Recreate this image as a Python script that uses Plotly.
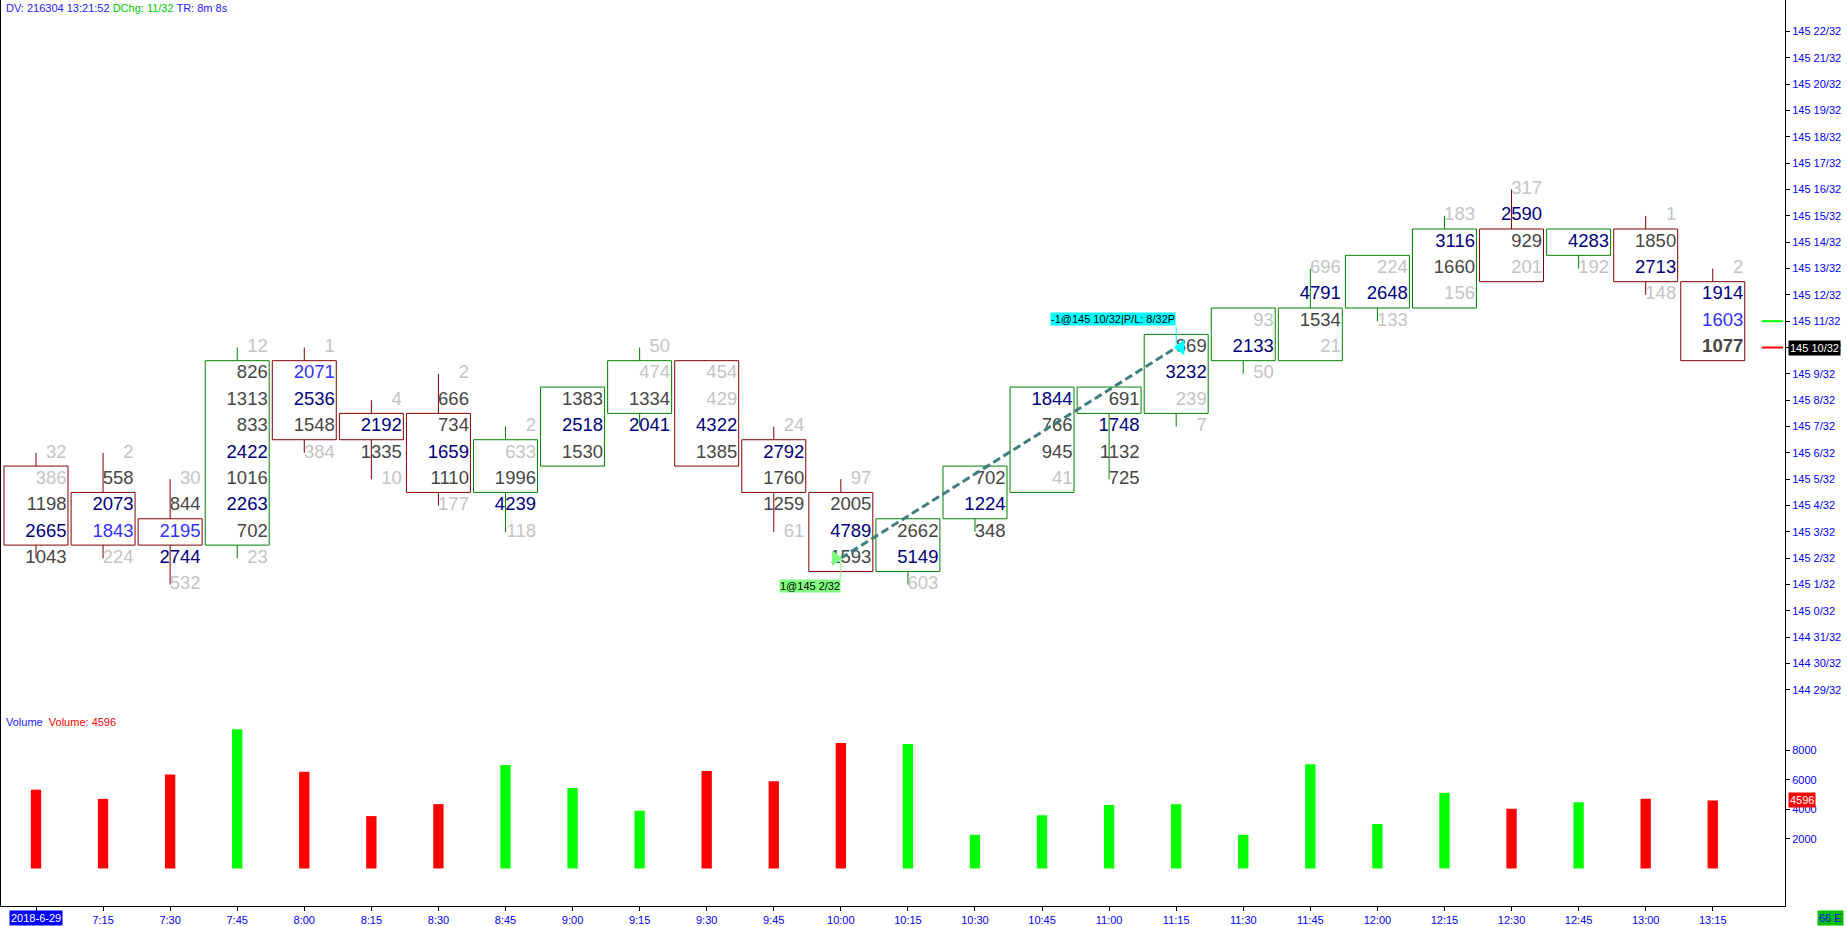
import plotly.graph_objects as go

# ---------------- data ----------------
time_labels = ["2018-6-29", "7:15", "7:30", "7:45", "8:00", "8:15", "8:30", "8:45", "9:00", "9:15",
               "9:30", "9:45", "10:00", "10:15", "10:30", "10:45", "11:00", "11:15", "11:30",
               "11:45", "12:00", "12:15", "12:30", "12:45", "13:00", "13:15"]
# prices in 32nds above 145 0/32
bar_high = [6, 6, 5, 10, 10, 8, 9, 7, 8, 10, 9, 7, 5, 3, 5, 8, 8, 10, 11, 13, 13, 15, 16, 14, 15, 13]
bar_open = [5, 4, 3, 3, 9, 7, 7, 5, 6, 8, 9, 6, 4, 2, 4, 5, 8, 8, 10, 10, 12, 12, 14, 14, 14, 12]
bar_close = [3, 3, 3, 9, 7, 7, 5, 6, 8, 9, 6, 5, 2, 3, 5, 8, 8, 10, 11, 11, 13, 14, 13, 14, 13, 10]
bar_up = [0, 0, 0, 1, 0, 0, 0, 1, 1, 1, 0, 0, 0, 1, 1, 1, 1, 1, 1, 1, 1, 1, 0, 1, 0, 0]
# volume traded at each price level, from the high down to the low
level_volumes = [
    [32, 386, 1198, 2665, 1043],
    [2, 558, 2073, 1843, 224],
    [30, 844, 2195, 2744, 532],
    [12, 826, 1313, 833, 2422, 1016, 2263, 702, 23],
    [1, 2071, 2536, 1548, 384],
    [4, 2192, 1335, 10],
    [2, 666, 734, 1659, 1110, 177],
    [2, 633, 1996, 4239, 118],
    [1383, 2518, 1530],
    [50, 474, 1334, 2041],
    [454, 429, 4322, 1385],
    [24, 2792, 1760, 1259, 61],
    [97, 2005, 4789, 1593],
    [2662, 5149, 603],
    [702, 1224, 348],
    [1844, 766, 945, 41],
    [691, 1748, 1132, 725],
    [869, 3232, 239, 7],
    [93, 2133, 50],
    [696, 4791, 1534, 21],
    [224, 2648, 133],
    [183, 3116, 1660, 156],
    [317, 2590, 929, 201],
    [4283, 192],
    [1, 1850, 2713, 148],
    [2, 1914, 1603, 1077],
]
trade_bar = [12, 17]
trade_price = [2, 10]
trade_text = ["1@145 2/32", "-1@145 10/32|P/L: 8/32P"]
quote_prices = [11, 10]  # green, red quote marks
price_ticks = list(range(-3, 23))
volume_ticks = [2000, 4000, 6000, 8000]
header = {"dv": "216304", "time": "13:21:52", "dchg": "11/32", "tr": "8m 8s"}
footer_tag = "66 E"

# ---------------- styles ----------------
RED_C, GREEN_C = "#800000", "#008000"
RED_V, GREEN_V = "#ff0000", "#00ff00"
NAVY, BLUE, DARK, LIGHT = "#000080", "#3333ff", "#464646", "#c4c4c4"
AXBLUE = "#0000ff"
FONT = "Liberation Sans"
HALF = 0.477
TEXT_DX = 0.455


def price_label(t):
    whole = 145 + t // 32
    return f"{whole} {t % 32}/32"


def cell_color(v, m):
    r = v / m
    if r >= 0.9:
        return NAVY
    if r >= 0.75:
        return BLUE
    if r >= 0.25:
        return DARK
    return LIGHT


n = len(time_labels)
fig = go.Figure()

# candle bodies and wicks
for up_flag, col in ((0, RED_C), (1, GREEN_C)):
    xs, ys = [], []
    for i in range(n):
        if bar_up[i] != up_flag:
            continue
        top = max(bar_open[i], bar_close[i]) + 0.5
        bot = min(bar_open[i], bar_close[i]) - 0.5
        low = bar_high[i] - len(level_volumes[i]) + 1
        xs += [i - HALF, i + HALF, i + HALF, i - HALF, i - HALF, None]
        ys += [top, top, bot, bot, top, None]
        if bar_high[i] > top:
            xs += [i, i, None]
            ys += [top, bar_high[i], None]
        if low < bot:
            xs += [i, i, None]
            ys += [bot, low, None]
    fig.add_trace(go.Scatter(x=xs, y=ys, mode="lines", line=dict(color=col, width=1),
                             hoverinfo="skip", showlegend=False))

# level volume numbers
tx, ty, tt, tc = [], [], [], []
for i in range(n):
    vols = level_volumes[i]
    m = max(vols)
    for k, v in enumerate(vols):
        lvl = bar_high[i] - k
        tx.append(i + TEXT_DX)
        ty.append(lvl)
        col = cell_color(v, m)
        if i == n - 1 and lvl == bar_close[i]:
            tt.append(f"<b>{v}</b>")
        else:
            tt.append(str(v))
        tc.append(col)
fig.add_trace(go.Scatter(x=tx, y=ty, text=tt, mode="text", textposition="middle left",
                         textfont=dict(family=FONT, size=18.5, color=tc),
                         hoverinfo="skip", showlegend=False))

# volume bars
vol_tot = [sum(v) for v in level_volumes]
fig.add_trace(go.Bar(x=list(range(n)), y=vol_tot, yaxis="y2", width=0.154,
                     marker=dict(color=[GREEN_V if u else RED_V for u in bar_up], line=dict(width=0)),
                     hoverinfo="skip", showlegend=False))

# trade line and markers
fig.add_trace(go.Scatter(x=trade_bar, y=trade_price, mode="lines",
                         line=dict(color="#3f7f7f", width=3, dash="8px,4px"),
                         hoverinfo="skip", showlegend=False))
fig.add_trace(go.Scatter(x=[trade_bar[0], trade_bar[0]], y=[trade_price[0], trade_price[0] - 0.78],
                         mode="lines", line=dict(color="#80ff80", width=1),
                         hoverinfo="skip", showlegend=False))
fig.add_trace(go.Scatter(x=[trade_bar[1], trade_bar[1]], y=[trade_price[1], trade_price[1] + 0.8],
                         mode="lines", line=dict(color="#00ffff", width=1),
                         hoverinfo="skip", showlegend=False))
fig.add_trace(go.Scatter(x=[trade_bar[0] - 0.08], y=[trade_price[0]], mode="markers",
                         marker=dict(symbol="triangle-right", size=14, color="#80ff80", line=dict(width=0)),
                         hoverinfo="skip", showlegend=False))
fig.add_trace(go.Scatter(x=[trade_bar[1] + 0.07], y=[trade_price[1]], mode="markers",
                         marker=dict(symbol="triangle-left", size=14, color="#00ffff", line=dict(width=0)),
                         hoverinfo="skip", showlegend=False))

# quote marks at right
for p, col in zip(quote_prices, ["#00ff00", "#ff0000"]):
    fig.add_trace(go.Scatter(x=[n - 1 + 0.73, n - 1 + 1.05], y=[p, p], mode="lines",
                             line=dict(color=col, width=2), hoverinfo="skip", showlegend=False))

annotations = [
    dict(x=trade_bar[0], y=trade_price[0] - 0.78, xref="x", yref="y", text=trade_text[0],
         xanchor="right", yanchor="top", showarrow=False, bgcolor="#80ff80", borderpad=0,
         font=dict(family=FONT, size=11, color="black")),
    dict(x=trade_bar[1], y=trade_price[1] + 0.8, xref="x", yref="y", text=trade_text[1],
         xanchor="right", yanchor="bottom", showarrow=False, bgcolor="#00ffff", borderpad=0,
         font=dict(family=FONT, size=11, color="black")),
    dict(x=1, y=bar_close[-1], xref="paper", yref="y", text=price_label(bar_close[-1]),
         xanchor="left", yanchor="middle", xshift=3, showarrow=False, bgcolor="black", borderpad=1,
         font=dict(family=FONT, size=11, color="white")),
    dict(x=1, y=vol_tot[-1], xref="paper", yref="y2", text=str(vol_tot[-1]),
         xanchor="left", yanchor="middle", xshift=3, showarrow=False, bgcolor="#ff0000", borderpad=1,
         font=dict(family=FONT, size=11, color="white")),
    dict(x=1, y=0, xref="paper", yref="paper", text=footer_tag, xanchor="left", yanchor="top",
         xshift=32, yshift=-4, showarrow=False, bgcolor="#00c000", borderpad=1,
         font=dict(family=FONT, size=11, color="#0000ff")),
    dict(x=0, y=0, xref="x", yref="paper", text=time_labels[0], xanchor="center", yanchor="top",
         yshift=-4, showarrow=False, bgcolor="#0000ff", borderpad=1,
         font=dict(family=FONT, size=11, color="white")),
    dict(x=0, y=1, xref="paper", yref="paper", xanchor="left", yanchor="top", xshift=4, yshift=0,
         showarrow=False,
         text=(f"<span style='color:#2222ff'>DV: {header['dv']} {header['time']}</span> "
               f"<span style='color:#00cc00'>DChg: {header['dchg']}</span> "
               f"<span style='color:#2222ff'>TR: {header['tr']}</span>"),
         font=dict(family=FONT, size=11)),
    dict(x=0, y=1 - 724 / 908, xref="paper", yref="paper", xanchor="left", yanchor="middle", xshift=4,
         showarrow=False,
         text=(f"<span style='color:#2222ff'>Volume</span>  "
               f"<span style='color:#ff0000'>Volume: {vol_tot[-1]}</span>"),
         font=dict(family=FONT, size=11)),
]

PX = 67.07
x0 = -36 / PX
x1 = x0 + 1785 / PX
PY = 26.4
p_top = 10 + 348.3 / PY
p_bot = 10 - (908 - 348.3) / PY
VY = 0.01483
v_bot = -(908 - 870.4) / VY
v_top = 870.4 / VY

fig.update_layout(
    width=1847, height=926,
    margin=dict(l=0, r=62, t=0, b=18),
    paper_bgcolor="white", plot_bgcolor="white",
    showlegend=False,
    xaxis=dict(range=[x0, x1], tickvals=list(range(n)), ticktext=[""] + time_labels[1:],
               showgrid=False, zeroline=False, showline=True, linecolor="black", linewidth=1,
               ticks="outside", ticklen=4, tickcolor="black",
               tickfont=dict(family=FONT, size=11, color=AXBLUE), fixedrange=True),
    yaxis=dict(range=[p_bot, p_top], side="right", tickvals=price_ticks,
               ticktext=[price_label(t) for t in price_ticks],
               showgrid=False, zeroline=False, showline=True, linecolor="black", linewidth=1,
               ticks="outside", ticklen=4, tickcolor="black",
               tickfont=dict(family=FONT, size=11, color=AXBLUE)),
    yaxis2=dict(range=[v_bot, v_top], side="right", overlaying="y", tickvals=volume_ticks,
                showgrid=False, zeroline=False, showline=False,
                ticks="outside", ticklen=4, tickcolor="black",
                tickfont=dict(family=FONT, size=11, color=AXBLUE)),
    annotations=annotations,
    shapes=[dict(type="line", xref="paper", yref="paper", x0=0, x1=0, y0=0, y1=1,
                 line=dict(color="black", width=2))],
)

fig.write_html("out.html", config={"displayModeBar": False},
               post_script="document.body.style.margin='0';document.body.style.overflow='hidden';")
